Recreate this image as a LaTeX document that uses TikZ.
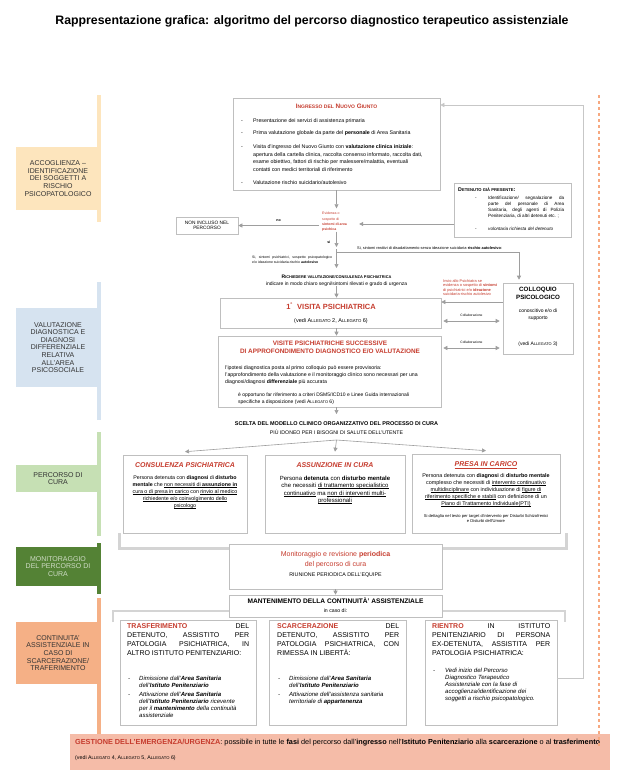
\documentclass[tikz,border=0pt]{standalone}
\usepackage{fontspec}
\setmainfont{Liberation Sans}
\usetikzlibrary{arrows.meta,shadows}
\definecolor{redtxt}{RGB}{198,60,46}
\definecolor{phyel}{RGB}{253,229,189}
\definecolor{phblue}{RGB}{214,227,240}
\definecolor{phgreen}{RGB}{198,224,180}
\definecolor{phdark}{RGB}{84,130,53}
\definecolor{phorange}{RGB}{245,176,134}
\definecolor{emerg}{RGB}{245,188,168}
\definecolor{dotor}{RGB}{246,168,128}
\newcommand\fsz[2]{\fontsize{#1pt}{#2pt}\selectfont}
\newcommand\dsh{\makebox[11pt][l]{-}}
\newcommand\uln[1]{{\setbox0=\hbox{#1}\rlap{\rule[-0.25ex]{\wd0}{0.3pt}}\box0}}
\makeatletter
\newcommand\smc[1]{{\edef\smcsz{\the\dimexpr 0.78\dimexpr\f@size pt\relax\relax}\fontsize{\smcsz}{\smcsz}\selectfont\MakeUppercase{#1}}}
\makeatother
\begin{document}
\begin{tikzpicture}[x=1pt,y=-1pt,
  panel/.style={draw=black!25,line width=0.6pt,fill=white,inner sep=0pt,drop shadow={shadow xshift=0.5pt,shadow yshift=-0.7pt,fill=black!12,opacity=1}},
  txt/.style={inner sep=0pt,align=left},
  redt/.style={text=redtxt},
  arr/.style={draw=black!38,line width=0.6pt,-{Triangle[width=4pt,length=4pt]}},
  dbl/.style={draw=black!38,line width=0.6pt,{Triangle[width=4pt,length=4pt]}-{Triangle[width=4pt,length=4pt]}},
  brk/.style={draw=black!17,line width=2.6pt}]
\fill[white] (0,0) rectangle (625,780);
\useasboundingbox (0,0) rectangle (625,780);
\node[font=\fsz{12.3}{14}\bfseries] (title) at (312,21) {Rappresentazione grafica: algoritmo del percorso diagnostico terapeutico assistenziale};
% phases on the left
\foreach \nm/\bt/\bb/\lt/\lb/\col/\tc/\txt in {
  acc/95/222/147/210/phyel/black!80/{ACCOGLIENZA --\\IDENTIFICAZIONE\\DEI SOGGETTI A\\RISCHIO\\PSICOPATOLOGICO},
  val/282/420/308/387/phblue/black!80/{VALUTAZIONE\\DIAGNOSTICA E\\DIAGNOSI\\DIFFERENZIALE\\RELATIVA\\ALL'AREA\\PSICOSOCIALE},
  cur/432/536/465/492/phgreen/black!80/{PERCORSO DI\\CURA},
  mon/543/594/547/586/phdark/white!72!phdark/{MONITORAGGIO\\DEL PERCORSO DI\\CURA},
  con/598/735/622/684/phorange/black!80/{CONTINUITA'\\ASSISTENZIALE IN\\CASO DI\\SCARCERAZIONE/\\TRAFERIMENTO}}
{
  \fill[\col] (97,\bt) rectangle (101,\bb);
  \node[fill=\col,text=\tc,inner sep=0pt,minimum width=84pt,minimum height={(\lb-\lt)*1pt},align=center,font=\fsz{7}{7.6}] (lab\nm) at (58,{(\lt+\lb)/2}) {\txt};
}
% accoglienza
\node[panel,minimum width=207pt,minimum height=92pt] (ingresso) at (336.5,144) {};
\node[redt,inner sep=0pt,font=\fsz{6.4}{7}\bfseries] (ingtit) at (336.5,106) {I\smc{ngresso del} N\smc{uovo} G\smc{iunto}};
\node[txt,anchor=north west,font=\fsz{5.3}{7.5}] (ingitems) at (241,118.6) {\makebox[12pt][l]{-}Presentazione dei servizi di assistenza primaria\\[4.5pt]
  \makebox[12pt][l]{-}Prima valutazione globale da parte del \textbf{personale} di Area Sanitaria\\[6.5pt]
  \makebox[12pt][l]{-}Visita d'ingresso del Nuovo Giunto con \textbf{valutazione clinica iniziale}:\\
  \hspace*{12pt}apertura della cartella clinica, raccolta consenso informato, raccolta dati,\\
  \hspace*{12pt}esame obiettivo, fattori di rischio per malessere/malattia, eventuali\\
  \hspace*{12pt}contatti con medici territoriali di riferimento\\[6pt]
  \makebox[12pt][l]{-}Valutazione rischio suicidario/autolesivo};
\node[panel,minimum width=117pt,minimum height=54pt] (detenuto) at (512.5,210) {};
\node[txt,anchor=west,font=\fsz{5.3}{6}\bfseries] (dettit) at (458,190) {D\smc{etenuto già presente}:};
\node[txt,anchor=north west,text width=89pt,align=justify,font=\fsz{4.6}{6}] (detitems) at (475,195.5) {\hangindent=13pt\hangafter=1\noindent\makebox[13pt][l]{-}Identificazione/ segnalazione da\linebreak parte del personale di Area\linebreak Sanitaria, degli agenti di Polizia\linebreak Penitenziaria, di altri detenuti etc. ;\par\vspace{7pt}\noindent\makebox[13pt][l]{-}\textit{volontaria richiesta del detenuto}};
\node[panel,minimum width=62pt,minimum height=17pt,align=center,font=\fsz{4.8}{5.6}] (noninc) at (207,225.5) {NON INCLUSO NEL\\PERCORSO};
\node[txt,anchor=north west,redt,font=\fsz{3.5}{5.3}] (evid) at (322,212) {Evidenza o\\sospetto di\\\textbf{sintomi di area}\\\textbf{psichica}};
\coordinate (split) at (336.5,252);
\coordinate (noend) at (319,225.5);
\draw[arr] (ingresso.south) -- ++(0,18);
\draw[arr] (detenuto.west |- 0,224) -- ([xshift=12pt]evid.east |- 0,224);
\draw[arr] (noend) -- (noninc.east) node[midway,above=0.6pt,font=\fsz{3.6}{4}\bfseries] (no) {no};
\draw[arr] (split |- evid.south) -- ([yshift=5pt]split);
\node[anchor=east,font=\fsz{3.6}{4}\bfseries] (si) at (334,242) {si};
\node[txt,anchor=base west,font=\fsz{3.9}{4.5}] (reatt) at (357,249.5) {Si, sintomi reattivi di disadattamento senza ideazione suicidaria-\textbf{rischio autolesivo}:};
\node[txt,anchor=north west,text width=80pt,align=justify,font=\fsz{3.5}{5}] (psich) at (252,255.5) {Si, sintomi psichiatrici, sospetto psicopatologico\linebreak e/o ideazione suicidaria-rischio \textbf{autolesivo}};
\node[txt,align=center,anchor=north,font=\fsz{5}{6.5}] (richiedere) at (336.5,275) {\textbf{R\smc{ichiedere valutazione/consulenza psichiatrica}}\\indicare in modo chiaro segni/sintomi rilevati e grado di urgenza};
% valutazione
\node[panel,minimum width=70pt,minimum height=71pt] (colloquio) at (538,318.5) {};
\node[align=center,inner sep=0pt,font=\fsz{6.2}{7.8}\bfseries] (coltit) at (538,293) {COLLOQUIO\\PSICOLOGICO};
\node[align=center,inner sep=0pt,font=\fsz{5}{7}] (colbody) at (538,314.5) {conoscitivo e/o di\\supporto};
\node[inner sep=0pt,font=\fsz{5}{6}] (colref) at (538,344) {(vedi A\smc{llegato} 3)};
\draw[arr] ([yshift=3pt]split) -- (split |- 0,268);
\draw[arr] (split) -| ([xshift=-19pt,yshift=3pt]colloquio.north);
\node[txt,anchor=north west,redt,font=\fsz{3.9}{4.3}] (invio) at (443,279.5) {Invio allo Psichiatra se\\evidenza o sospetto di \textbf{sintomi}\\di psichiatrici e/o \textbf{ideazione}\\suicidaria-rischio autolesivo};
\node[panel,minimum width=221pt,minimum height=30pt] (visita1) at (330.5,313) {};
\node[redt,inner sep=0pt,font=\fsz{7.5}{8}\bfseries] (v1tit) at (331,306) {1\textsuperscript{°}\ \ VISITA PSICHIATRICA};
\node[inner sep=0pt,font=\fsz{5.5}{6}] (v1ref) at (331,321) {(vedi A\smc{llegato} 2, A\smc{llegato} 6)};
\node[panel,minimum width=223pt,minimum height=71pt] (visite) at (329.5,371.5) {};
\node[redt,align=center,inner sep=0pt,font=\fsz{6.4}{7.4}\bfseries] (vstit) at (330,347.5) {VISITE PSICHIATRICHE SUCCESSIVE\\DI APPROFONDIMENTO DIAGNOSTICO E/O VALUTAZIONE};
\node[txt,anchor=north west,font=\fsz{5.2}{7}] (vsbody) at (225,365.5) {l'ipotesi diagnostica posta al primo colloquio può essere provvisoria:\\l'approfondimento della valutazione e il monitoraggio clinico sono necessari per una\\diagnosi/diagnosi \textbf{differenziale} più accurata};
\node[txt,anchor=north west,font=\fsz{5}{7}] (vsdsm) at (238,392.5) {è opportuno far riferimento a criteri DSM5/ICD10 e Linee Guida internazionali\\specifiche a disposizione (vedi A\smc{llegato} 6)};
\draw[arr] (richiedere.south -| split) -- (visita1.north -| split);
\draw[arr] (visita1.south -| split) -- (visite.north -| split);
\draw[arr] (colloquio.west |- 0,302) -- (visita1.east |- 0,302);
\draw[dbl] ([xshift=2pt]visita1.east |- 0,321) -- ([xshift=-3pt]colloquio.west |- 0,321) node[midway,above=0.8pt,font=\fsz{3.3}{4}] (collab1) {Collaborazione};
\draw[dbl] ([xshift=2pt]visite.east |- 0,348) -- ([xshift=-3pt]colloquio.west |- 0,348) node[midway,above=0.8pt,font=\fsz{3.3}{4}] (collab2) {Collaborazione};
% percorso di cura
\node[align=center,anchor=north,inner sep=0pt,font=\fsz{5.5}{9}] (scelta) at (336.5,421) {\textbf{SCELTA DEL MODELLO CLINICO ORGANIZZATIVO DEL PROCESSO DI CURA}\\{\fsz{5.2}{9}PIÙ IDONEO PER I BISOGNI DI SALUTE DELL'UTENTE}};
\draw[arr,shorten >=7pt] (visite.south -| split) -- (scelta.north -| split);
\node[panel,minimum width=124pt,minimum height=78pt] (consulenza) at (185,494) {};
\node[panel,minimum width=140pt,minimum height=78pt] (assunzione) at (335,494) {};
\node[panel,minimum width=148pt,minimum height=79pt] (presa) at (486,493.5) {};
\coordinate (fan) at (336.5,440);
\foreach \bx in {consulenza,assunzione,presa} \draw[arr] (fan) -- ([yshift=3pt]\bx.north);
\node[redt,inner sep=0pt,font=\fsz{7}{8}\bfseries\itshape] (constit) at (185,465) {CONSULENZA PSICHIATRICA};
\node[redt,inner sep=0pt,font=\fsz{7}{8}\bfseries\itshape] (asstit) at (335,465) {ASSUNZIONE IN CURA};
\node[redt,inner sep=0pt,font=\fsz{7}{8}\bfseries\itshape] (pretit) at (486,465) {\uln{PRESA IN CARICO}};
\node[txt,align=center,anchor=north,font=\fsz{5.3}{7}] (consbody) at (185,475.5) {Persona detenuta con \textbf{diagnosi} di \textbf{disturbo}\\\textbf{mentale} che \uln{non necessiti di \textbf{assunzione in}}\\\uln{cura o di presa in carico} con \uln{rinvio al medico}\\\uln{richiedente e/o coinvolgimento dello}\\\uln{psicologo}};
\node[txt,align=center,anchor=north,font=\fsz{6}{7.6}] (assbody) at (335,475.5) {Persona \textbf{detenuta} con \textbf{disturbo mentale}\\che necessiti \uln{di trattamento specialistico}\\\uln{continuativo} ma \uln{non di interventi multi-}\\\uln{professionali}};
\node[txt,align=center,anchor=north,font=\fsz{5.4}{7}] (prebody) at (486,473.5) {Persona detenuta con \textbf{diagnosi} di \textbf{disturbo mentale}\\complesso che necessiti di \uln{intervento continuativo}\\\uln{multidisciplinare} con individuazione di \uln{figure di}\\\uln{riferimento specifiche e stabili} con definizione di un\\\uln{Piano di Trattamento Individuale(PTI)}};
\node[txt,align=center,anchor=north,font=\fsz{4.1}{4.6}] (prenote) at (486,514.5) {Si dettaglia nel testo per target d'intervento per Disturbi Schizofrenici\\e Disturbi dell'Umore};
\draw[brk] ([xshift=-3pt]consulenza.south west) |- ([xshift=6pt,yshift=-15pt]presa.south east) -- ([xshift=6pt]presa.south east);
% monitoraggio e continuita
\node[panel,minimum width=213pt,minimum height=45pt] (monit) at (335.5,566.5) {};
\node[redt,align=center,inner sep=0pt,font=\fsz{7}{10}] (montxt) at (335.5,560) {Monitoraggio e revisione \textbf{periodica}\\del percorso di cura};
\node[inner sep=0pt,font=\fsz{5.3}{6}] (monriu) at (335.5,575) {RIUNIONE PERIODICA DELL'EQUIPE};
\draw[brk] (113,622) |- (565,611) -- (565,622);
\node[panel,minimum width=213pt,minimum height=22pt] (manten) at (335.5,606) {};
\node[align=center,inner sep=0pt,font=\fsz{6.6}{9}] (mantxt) at (335.5,605.5) {\textbf{MANTENIMENTO DELLA CONTINUITÀ' ASSISTENZIALE}\\{\fsz{5.2}{9}in caso di:}};
\draw[arr] (monit.south) -- (manten.north);
\node[panel,minimum width=136pt,minimum height=105pt] (trasf) at (188,672.5) {};
\node[panel,minimum width=137pt,minimum height=105pt] (scarc) at (337.5,672.5) {};
\node[panel,minimum width=132pt,minimum height=105pt] (rientro) at (491,672.5) {};
\node[txt,anchor=north west,text width=122pt,align=justify,font=\fsz{7}{9}] (trasfhd) at (127,623.5) {\textcolor{redtxt}{\textbf{TRASFERIMENTO}} DEL\linebreak DETENUTO, ASSISTITO PER\linebreak PATOLOGIA PSICHIATRICA, IN\linebreak ALTRO ISTITUTO PENITENZIARIO:};
\node[txt,anchor=north west,text width=122pt,align=justify,font=\fsz{7}{9}] (scarchd) at (277,623.5) {\textcolor{redtxt}{\textbf{SCARCERAZIONE}} DEL\linebreak DETENUTO, ASSISTITO PER\linebreak PATOLOGIA PSICHIATRICA, CON\linebreak RIMESSA IN LIBERTÀ:};
\node[txt,anchor=north west,text width=118pt,align=justify,font=\fsz{7}{9}] (rienthd) at (432,623.5) {\textcolor{redtxt}{\textbf{RIENTRO}} IN ISTITUTO\linebreak PENITENZIARIO DI PERSONA\linebreak EX-DETENUTA, ASSISTITA PER\linebreak PATOLOGIA PSICHIATRICA:};
\node[txt,anchor=north west,font=\fsz{6}{7}\itshape] (trasfli) at (128,675.5) {\dsh Dimissione dall'\textbf{Area Sanitaria}\\\hspace*{11pt}dell'\textbf{Istituto Penitenziario}\\[2pt]\dsh Attivazione dell'\textbf{Area Sanitaria}\\\hspace*{11pt}dell'\textbf{Istituto Penitenziario} ricevente\\\hspace*{11pt}per il \textbf{mantenimento} della continuità\\\hspace*{11pt}assistenziale};
\node[txt,anchor=north west,font=\fsz{6}{7}\itshape] (scarcli) at (278,675.5) {\dsh Dimissione dall'\textbf{Area Sanitaria}\\\hspace*{11pt}dell'\textbf{Istituto Penitenziario}\\[2pt]\dsh Attivazione dell'assistenza sanitaria\\\hspace*{11pt}territoriale di \textbf{appartenenza}};
\node[txt,anchor=north west,font=\fsz{6}{7}\itshape] (rientli) at (433,667.5) {\makebox[12pt][l]{-}Vedi inizio del Percorso\\\hspace*{12pt}Diagnostico Terapeutico\\\hspace*{12pt}Assistenziale con la fase di\\\hspace*{12pt}accoglienza/identificazione dei\\\hspace*{12pt}soggetti a rischio psicopatologico.};
% back to the start
\coordinate (loop) at (583,105);
\draw[arr,draw=black!22] ([yshift=-5.5pt]rientro.east) -| (loop) -- (ingresso.east |- loop);
% emergenza
\node[fill=emerg,minimum width=540pt,minimum height=36pt,inner sep=0pt] (emerg) at (340,752) {};
\node[txt,anchor=west,font=\fsz{7.3}{8}] (emtxt) at (75,742.5) {\textcolor{redtxt}{\textbf{GESTIONE DELL'EMERGENZA/URGENZA}}: possibile in tutte le \textbf{fasi} del percorso dall'\textbf{ingresso} nell'\textbf{Istituto Penitenziario} alla \textbf{scarcerazione} o al \textbf{trasferimento}};
\node[txt,anchor=west,font=\fsz{5.3}{6}] (emref) at (75,758) {(vedi A\smc{llegato} 4, A\smc{llegato} 5, A\smc{llegato} 6)};
\draw[dotor,line width=2.6pt,dash pattern=on 2.6pt off 3.4pt] (599,95) -- (599,748);
\end{tikzpicture}
\end{document}
